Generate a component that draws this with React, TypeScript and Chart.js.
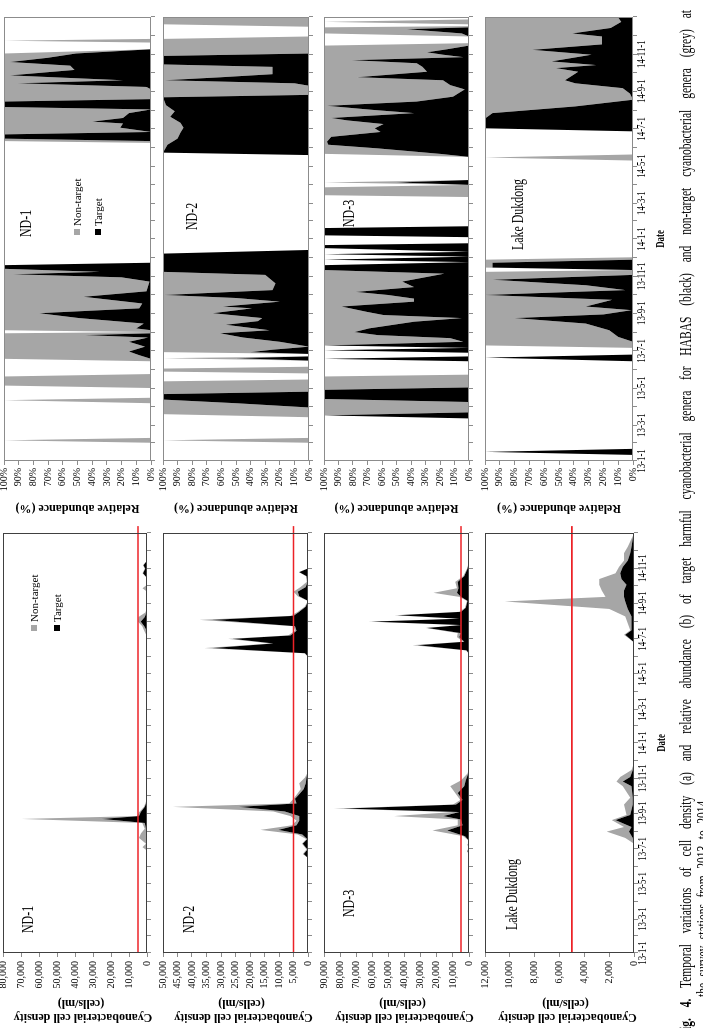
import React, { useEffect, useRef } from 'react';
import { Chart, registerables } from 'chart.js';

Chart.register(...registerables);

const SERIF = '"Liberation Serif", "Times New Roman", Times, serif';
const GREY = '#a6a6a6';
const BLACK = '#000000';
const RED = '#ec2227';

// ---------------- axis definitions ----------------
const axisStart = '2013-01-01';
const axisEnd = '2015-01-01';
const dateTickDates = ['2013-01-01', '2013-03-01', '2013-05-01', '2013-07-01', '2013-09-01', '2013-11-01', '2014-01-01', '2014-03-01', '2014-05-01', '2014-07-01', '2014-09-01', '2014-11-01'];
const dateTickLabels = ['13-1-1', '13-3-1', '13-5-1', '13-7-1', '13-9-1', '13-11-1', '14-1-1', '14-3-1', '14-5-1', '14-7-1', '14-9-1', '14-11-1'];
const alertLevel = 5000; // cells/ml, HABAS alert level
const alertLineEnd = '2015-01-13';

const stationNames = ['ND-1', 'ND-2', 'ND-3', 'Lake Dukdong'];
const densityMax = [80000, 50000, 90000, 12000];
const densityStep = [10000, 5000, 10000, 2000];
const densityTitle = ['Cyanobacterial cell density', '(cells/ml)'];
const abundanceTitle = 'Relative abundance (%)';
const legendLabels = ['Non-target', 'Target'];

// ---------------- (a) cell density, cells/ml ----------------
const nd1DensityDates = ['2013-01-01', '2013-06-28', '2013-07-04', '2013-07-10', '2013-07-20', '2013-07-28', '2013-08-05', '2013-08-15', '2013-08-22', '2013-08-27', '2013-09-03', '2013-09-12', '2013-09-20', '2013-09-30', '2014-07-05', '2014-07-15', '2014-07-23', '2014-07-31', '2014-08-08', '2014-08-16', '2014-08-26', '2014-09-21', '2014-09-27', '2014-10-03', '2014-10-15', '2014-10-23', '2014-10-31', '2014-11-06', '2014-11-14', '2014-12-31'];
const nd1DensityTarget = [0, 0, 100, 300, 500, 300, 600, 1200, 25000, 4500, 3500, 1200, 300, 0, 0, 200, 1500, 3500, 1200, 300, 0, 0, 0, 0, 0, 2200, 1000, 2000, 0, 0];
const nd1DensityNonTarget = [0, 0, 2400, 300, 4000, 3000, 700, 1500, 44600, 1000, 800, 500, 400, 0, 0, 1300, 1200, 1500, 3500, 500, 0, 0, 2500, 0, 0, 300, 300, 200, 0, 0];

const nd2DensityDates = ['2013-01-01', '2013-06-15', '2013-06-22', '2013-06-30', '2013-07-10', '2013-07-18', '2013-07-26', '2013-08-03', '2013-08-11', '2013-08-19', '2013-08-27', '2013-09-04', '2013-09-12', '2013-09-18', '2013-09-26', '2013-10-04', '2013-10-13', '2013-10-23', '2013-11-02', '2013-11-12', '2014-05-31', '2014-06-06', '2014-06-15', '2014-06-23', '2014-07-01', '2014-07-07', '2014-07-15', '2014-07-23', '2014-08-03', '2014-08-10', '2014-08-17', '2014-08-26', '2014-09-05', '2014-09-13', '2014-09-21', '2014-09-29', '2014-10-08', '2014-10-18', '2014-10-25', '2014-10-31', '2014-11-07', '2014-12-31'];
const nd2DensityTarget = [0, 0, 1500, 200, 1800, 300, 2000, 10200, 4000, 3000, 3000, 8000, 23800, 4000, 4500, 3000, 1500, 800, 500, 0, 0, 1000, 33000, 12000, 26000, 6000, 4000, 4500, 33000, 5000, 3000, 800, 0, 3000, 3500, 800, 200, 500, 3000, 200, 0, 0];
const nd2DensityNonTarget = [0, 0, 300, 300, 300, 300, 1500, 6200, 1500, 1000, 3000, 4000, 22800, 2500, 500, 800, 1000, 2200, 500, 0, 0, 200, 2700, 1000, 1500, 800, 500, 500, 4400, 1000, 500, 300, 0, 500, 1500, 1800, 200, 200, 200, 100, 0, 0];

const nd3DensityDates = ['2013-01-01', '2013-06-20', '2013-06-27', '2013-07-03', '2013-07-08', '2013-07-15', '2013-07-23', '2013-08-02', '2013-08-11', '2013-08-21', '2013-08-27', '2013-09-03', '2013-09-09', '2013-09-16', '2013-09-24', '2013-10-06', '2013-10-18', '2013-10-28', '2013-11-09', '2013-11-17', '2014-06-05', '2014-06-11', '2014-06-20', '2014-06-26', '2014-07-04', '2014-07-11', '2014-07-20', '2014-07-25', '2014-07-31', '2014-08-05', '2014-08-11', '2014-08-17', '2014-08-24', '2014-09-05', '2014-09-12', '2014-09-19', '2014-09-27', '2014-10-08', '2014-10-18', '2014-10-31', '2014-11-12', '2014-12-31'];
const nd3DensityTarget = [0, 0, 1000, 200, 800, 0, 2500, 13500, 4000, 5000, 16000, 6000, 78000, 8000, 4000, 7000, 3000, 2000, 500, 0, 0, 1500, 32000, 3000, 6000, 5000, 26000, 5000, 60700, 6000, 44400, 5000, 2000, 1000, 5000, 7400, 6500, 7000, 3000, 1000, 0, 0];
const nd3DensityNonTarget = [0, 0, 100, 100, 100, 0, 1000, 9200, 3000, 2000, 30600, 4000, 6000, 2000, 1500, 1500, 8700, 3000, 500, 0, 0, 300, 3000, 500, 1500, 2000, 1000, 500, 2000, 500, 2000, 1000, 500, 300, 1000, 14600, 1000, 1500, 500, 200, 0, 0];

const lakeDensityDates = ['2013-01-01', '2013-07-10', '2013-07-20', '2013-07-31', '2013-08-08', '2013-08-20', '2013-08-29', '2013-09-16', '2013-09-28', '2013-10-18', '2013-10-26', '2013-11-03', '2013-11-15', '2013-11-27', '2014-06-25', '2014-07-08', '2014-07-16', '2014-08-09', '2014-08-22', '2014-09-04', '2014-09-12', '2014-09-23', '2014-10-03', '2014-10-13', '2014-10-23', '2014-11-03', '2014-11-14', '2014-11-27', '2014-12-08', '2014-12-22', '2014-12-31'];
const lakeDensityTarget = [0, 0, 100, 400, 200, 1500, 300, 100, 100, 200, 900, 300, 100, 0, 0, 700, 200, 200, 500, 700, 800, 800, 600, 1000, 1100, 900, 500, 300, 200, 100, 0];
const lakeDensityNonTarget = [0, 0, 600, 1800, 600, 300, 300, 700, 200, 700, 500, 800, 100, 0, 0, 100, 100, 500, 1500, 9700, 1500, 1800, 2200, 1800, 400, 300, 300, 500, 300, 100, 0];

// ---------------- (b) relative abundance, % ----------------
const nd1AbundanceDates = ['2013-01-01', '2013-01-31', '2013-02-04', '2013-02-08', '2013-04-06', '2013-04-11', '2013-04-15', '2013-05-01', '2013-05-05', '2013-05-20', '2013-05-24', '2013-06-14', '2013-06-18', '2013-06-24', '2013-06-30', '2013-07-08', '2013-07-16', '2013-07-23', '2013-07-27', '2013-07-30', '2013-08-01', '2013-08-04', '2013-08-07', '2013-08-15', '2013-08-24', '2013-09-01', '2013-09-09', '2013-09-17', '2013-09-28', '2013-10-07', '2013-10-15', '2013-10-23', '2013-10-30', '2013-11-04', '2013-11-08', '2013-11-13', '2013-11-19', '2013-11-23', '2014-06-08', '2014-06-11', '2014-06-15', '2014-06-22', '2014-06-26', '2014-07-03', '2014-07-10', '2014-07-13', '2014-07-19', '2014-07-27', '2014-08-02', '2014-08-06', '2014-08-15', '2014-08-19', '2014-09-04', '2014-09-08', '2014-09-14', '2014-09-19', '2014-09-27', '2014-10-06', '2014-10-13', '2014-10-19', '2014-10-26', '2014-11-02', '2014-11-09', '2014-11-20', '2014-11-23', '2014-11-26', '2014-12-31'];
const nd1AbundanceTarget = [0, 0, 0, 0, 0, 0, 0, 0, 0, 0, 0, 0, 0, 8, 15, 4, 15, 2, 45, 0, 0, 0, 10, 5, 49, 76, 8, 6, 46, 3, 2, 1, 20, 94, 35, 100, 100, 0, 0, 0, 100, 100, 0, 21, 19, 40, 19, 15, 0, 100, 100, 0, 0, 3, 91, 19, 96, 52, 55, 96, 70, 51, 0, 0, 0, 0, 0];
const nd1AbundanceNonTarget = [0, 0, 100, 0, 0, 100, 0, 0, 100, 100, 0, 0, 100, 92, 85, 96, 85, 98, 55, 100, 0, 100, 90, 95, 51, 24, 92, 94, 54, 97, 98, 99, 80, 6, 65, 0, 0, 0, 0, 100, 0, 0, 100, 79, 81, 60, 81, 85, 100, 0, 0, 100, 100, 97, 9, 81, 4, 48, 45, 4, 30, 49, 0, 0, 100, 0, 0];

const nd2AbundanceDates = ['2013-01-01', '2013-01-31', '2013-02-04', '2013-02-08', '2013-03-14', '2013-03-19', '2013-03-30', '2013-04-06', '2013-04-12', '2013-04-21', '2013-04-25', '2013-05-12', '2013-05-15', '2013-05-25', '2013-05-28', '2013-06-02', '2013-06-05', '2013-06-15', '2013-06-19', '2013-06-22', '2013-06-26', '2013-06-29', '2013-07-03', '2013-07-08', '2013-07-16', '2013-07-23', '2013-07-30', '2013-08-04', '2013-08-13', '2013-08-19', '2013-08-24', '2013-09-01', '2013-09-09', '2013-09-12', '2013-09-20', '2013-09-26', '2013-10-01', '2013-10-09', '2013-10-20', '2013-11-03', '2013-11-08', '2013-12-08', '2013-12-14', '2014-05-19', '2014-05-23', '2014-06-05', '2014-06-15', '2014-06-25', '2014-07-03', '2014-07-11', '2014-07-21', '2014-07-30', '2014-08-09', '2014-08-22', '2014-08-26', '2014-09-10', '2014-09-14', '2014-09-19', '2014-09-24', '2014-09-29', '2014-10-11', '2014-10-15', '2014-10-29', '2014-11-02', '2014-11-26', '2014-11-30', '2014-12-16', '2014-12-20', '2014-12-31'];
const nd2AbundanceTarget = [0, 0, 0, 0, 0, 0, 0, 50, 100, 100, 0, 0, 0, 0, 0, 0, 0, 0, 50, 0, 0, 40, 25, 0, 20, 45, 61, 27, 57, 35, 32, 66, 39, 59, 20, 50, 99, 25, 23, 30, 100, 100, 0, 0, 100, 97, 90, 88, 86, 88, 95, 92, 98, 100, 0, 0, 10, 99, 60, 25, 25, 100, 100, 0, 0, 0, 0, 0, 0];
const nd2AbundanceNonTarget = [0, 0, 100, 0, 0, 100, 100, 50, 0, 0, 100, 100, 0, 0, 100, 100, 0, 0, 50, 0, 0, 60, 75, 100, 80, 55, 39, 73, 43, 65, 68, 34, 61, 41, 80, 50, 1, 75, 77, 70, 0, 0, 0, 0, 0, 3, 10, 12, 14, 12, 5, 8, 2, 0, 100, 100, 90, 1, 40, 75, 75, 0, 0, 100, 100, 0, 0, 100, 100];

const nd3AbundanceDates = ['2013-01-01', '2013-03-12', '2013-03-17', '2013-03-22', '2013-04-08', '2013-04-13', '2013-04-28', '2013-05-02', '2013-05-20', '2013-05-23', '2013-06-14', '2013-06-18', '2013-06-22', '2013-06-28', '2013-07-02', '2013-07-06', '2013-07-10', '2013-07-16', '2013-07-22', '2013-07-27', '2013-08-01', '2013-08-07', '2013-08-18', '2013-08-24', '2013-08-29', '2013-09-03', '2013-09-12', '2013-09-20', '2013-09-25', '2013-10-01', '2013-10-06', '2013-10-14', '2013-10-23', '2013-11-05', '2013-11-11', '2013-11-19', '2013-11-24', '2013-11-28', '2013-12-03', '2013-12-07', '2013-12-11', '2013-12-17', '2013-12-22', '2013-12-25', '2014-01-04', '2014-01-07', '2014-01-19', '2014-01-22', '2014-03-11', '2014-03-14', '2014-03-27', '2014-03-31', '2014-04-04', '2014-04-08', '2014-05-16', '2014-05-21', '2014-05-30', '2014-06-05', '2014-06-10', '2014-06-18', '2014-06-26', '2014-07-02', '2014-07-09', '2014-07-15', '2014-07-19', '2014-07-27', '2014-08-01', '2014-08-08', '2014-08-15', '2014-08-23', '2014-09-04', '2014-09-11', '2014-09-19', '2014-09-24', '2014-10-03', '2014-10-11', '2014-10-17', '2014-10-22', '2014-10-27', '2014-10-31', '2014-11-04', '2014-11-09', '2014-11-15', '2014-11-19', '2014-11-30', '2014-12-05', '2014-12-12', '2014-12-15', '2014-12-17', '2014-12-20', '2014-12-24', '2014-12-28', '2014-12-31'];
const nd3AbundanceTarget = [0, 0, 100, 0, 0, 100, 100, 0, 0, 0, 0, 100, 0, 0, 100, 0, 100, 4, 13, 63, 79, 69, 38, 5, 59, 70, 88, 38, 38, 56, 78, 38, 46, 17, 100, 100, 0, 100, 0, 100, 0, 100, 100, 0, 0, 100, 100, 0, 0, 0, 0, 0, 50, 0, 0, 20, 63, 97, 98, 95, 61, 65, 59, 84, 95, 38, 65, 98, 36, 11, 3, 13, 18, 77, 29, 32, 36, 81, 4, 18, 29, 15, 0, 0, 0, 5, 43, 0, 0, 0, 0, 0, 0];
const nd3AbundanceNonTarget = [0, 0, 0, 100, 100, 0, 0, 100, 100, 0, 0, 0, 0, 0, 0, 0, 0, 96, 87, 37, 21, 31, 62, 95, 41, 30, 12, 62, 62, 44, 22, 62, 54, 83, 0, 0, 0, 0, 0, 0, 0, 0, 0, 0, 0, 0, 0, 0, 0, 100, 100, 0, 50, 0, 0, 80, 37, 3, 2, 5, 39, 35, 41, 16, 5, 62, 35, 2, 64, 89, 97, 87, 82, 23, 71, 68, 64, 19, 96, 82, 71, 85, 100, 0, 0, 95, 57, 100, 0, 0, 100, 0, 0];

const lakeAbundanceDates = ['2013-01-01', '2013-01-11', '2013-01-16', '2013-01-21', '2013-06-14', '2013-06-20', '2013-06-25', '2013-07-06', '2013-07-10', '2013-07-16', '2013-07-24', '2013-08-04', '2013-08-15', '2013-08-24', '2013-08-30', '2013-09-06', '2013-09-12', '2013-09-23', '2013-10-01', '2013-10-09', '2013-10-17', '2013-10-26', '2013-11-03', '2013-11-08', '2013-11-11', '2013-11-15', '2013-11-23', '2013-11-28', '2013-12-02', '2014-05-10', '2014-05-15', '2014-05-20', '2014-06-27', '2014-07-02', '2014-07-18', '2014-07-27', '2014-08-07', '2014-08-18', '2014-08-28', '2014-09-06', '2014-09-14', '2014-09-19', '2014-10-03', '2014-10-09', '2014-10-14', '2014-10-20', '2014-10-31', '2014-11-08', '2014-11-17', '2014-11-30', '2014-12-05', '2014-12-14', '2014-12-24', '2014-12-31'];
const lakeAbundanceTarget = [0, 0, 100, 0, 0, 100, 0, 0, 0, 0, 10, 16, 32, 80, 20, 1, 32, 14, 100, 5, 32, 95, 0, 0, 0, 95, 95, 0, 0, 0, 0, 0, 0, 100, 100, 95, 39, 0, 2, 7, 39, 46, 37, 52, 25, 55, 28, 68, 21, 21, 41, 15, 8, 10];
const lakeAbundanceNonTarget = [0, 0, 0, 0, 0, 0, 0, 0, 100, 100, 90, 84, 68, 20, 80, 99, 68, 86, 0, 95, 68, 5, 100, 100, 0, 5, 5, 100, 0, 0, 100, 0, 0, 0, 0, 5, 61, 100, 98, 93, 61, 54, 63, 48, 75, 45, 72, 32, 79, 79, 59, 85, 92, 90];

const densitySeries = [
  [nd1DensityDates, nd1DensityTarget, nd1DensityNonTarget],
  [nd2DensityDates, nd2DensityTarget, nd2DensityNonTarget],
  [nd3DensityDates, nd3DensityTarget, nd3DensityNonTarget],
  [lakeDensityDates, lakeDensityTarget, lakeDensityNonTarget],
] as const;
const abundanceSeries = [
  [nd1AbundanceDates, nd1AbundanceTarget, nd1AbundanceNonTarget],
  [nd2AbundanceDates, nd2AbundanceTarget, nd2AbundanceNonTarget],
  [nd3AbundanceDates, nd3AbundanceTarget, nd3AbundanceNonTarget],
  [lakeAbundanceDates, lakeAbundanceTarget, lakeAbundanceNonTarget],
] as const;

// ---------------- helpers ----------------
const START_MS = Date.parse(axisStart + 'T00:00:00Z');
function dayOf(iso: string): number {
  return Math.round((Date.parse(iso + 'T00:00:00Z') - START_MS) / 86400000);
}
const monthTicks: number[] = [];
for (let y = 2013; y <= 2014; y++) {
  for (let m = 1; m <= 12; m++) monthTicks.push(dayOf(`${y}-${String(m).padStart(2, '0')}-01`));
}
monthTicks.push(dayOf(axisEnd));

function points(dates: readonly string[], values: readonly number[]) {
  return dates.map((d, i) => ({ x: dayOf(d), y: values[i] }));
}

// Layout of the landscape figure (it is turned a quarter turn for the page).
const FIG_W = 1028;
const FIG_H = 703;
const DENSITY_ROWS: [number, number][] = [[3, 149], [163, 310], [324, 471], [485, 634]];
const ABUNDANCE_ROWS: [number, number][] = [[4, 152], [163, 310], [324, 470], [485, 633]];

type Kind = 'density' | 'abundance';

function Panel({ kind, row }: { kind: Kind; row: number }) {
  const ref = useRef<HTMLCanvasElement>(null);
  const isDensity = kind === 'density';
  const last = row === 3;
  const [vTop, vBot] = (isDensity ? DENSITY_ROWS : ABUNDANCE_ROWS)[row];
  const left = isDensity ? 0 : 500;
  const width = isDensity ? 512 : 528;
  const axisW = isDensity ? 75 : 67;
  const plotW = isDensity ? 420 : 444;
  const padTop = 10;
  const bottomH = last ? 48 : 8;
  const top = vTop - padTop;
  const height = vBot - vTop + padTop + bottomH;

  useEffect(() => {
    const canvas = ref.current;
    if (!canvas) return;
    const [dates, target, nonTarget] = (isDensity ? densitySeries : abundanceSeries)[row];
    const datasets: any[] = [
      {
        label: 'Target', data: points(dates, target), stack: 'cells', fill: 'origin',
        backgroundColor: BLACK, borderColor: 'rgba(0,0,0,0)', borderWidth: 0, pointRadius: 0, tension: 0,
      },
      {
        label: 'Non-target', data: points(dates, nonTarget), stack: 'cells', fill: '-1',
        backgroundColor: GREY, borderColor: 'rgba(0,0,0,0)', borderWidth: 0, pointRadius: 0, tension: 0,
      },
    ];
    if (isDensity) {
      datasets.push({
        label: 'Alert level', data: [{ x: 0, y: alertLevel }, { x: dayOf(alertLineEnd), y: alertLevel }],
        stack: 'alert', fill: false, borderColor: RED, borderWidth: 1.6, pointRadius: 0, clip: false, order: -1,
      });
    }

    const framePlugin = {
      id: 'panelFrame',
      afterDraw(chart: any) {
        const { ctx, chartArea: a } = chart;
        ctx.save();
        ctx.strokeStyle = isDensity ? '#404040' : '#8c8c8c';
        ctx.lineWidth = 1;
        ctx.strokeRect(Math.round(a.left) + 0.5, Math.round(a.top) + 0.5, Math.round(a.right - a.left) - 1, Math.round(a.bottom - a.top) - 1);
        ctx.fillStyle = '#000';
        ctx.textAlign = 'center';
        ctx.textBaseline = 'middle';
        if (isDensity) {
          // two-line value-axis title, set slightly below the axis centre
          ctx.save();
          ctx.font = `bold 12px ${SERIF}`;
          ctx.translate(11, (a.top + a.bottom) / 2 + 8);
          ctx.rotate(-Math.PI / 2);
          densityTitle.forEach((line, i) => ctx.fillText(line, i === 0 ? 0 : 2, i * 14.4));
          ctx.restore();
        }
        if (last) {
          const xs = chart.scales.x;
          ctx.font = `13px ${SERIF}`;
          dateTickDates.forEach((d, i) => {
            ctx.save();
            ctx.translate(xs.getPixelForValue(dayOf(d)), a.bottom + 8.5);
            ctx.scale(0.68, 1);
            ctx.fillText(dateTickLabels[i], 0, 0);
            ctx.restore();
          });
          ctx.font = `bold 13px ${SERIF}`;
          ctx.translate((a.left + a.right) / 2, a.bottom + 28);
          ctx.scale(0.68, 1);
          ctx.fillText('Date', 0, 0);
        }
        ctx.restore();
      },
    };

    const chart = new Chart(canvas, {
      type: 'line',
      data: { datasets },
      options: {
        animation: false,
        responsive: false,
        maintainAspectRatio: false,
        devicePixelRatio: 1,
        layout: { padding: { top: padTop, right: width - axisW - plotW, bottom: 0, left: 0 } },
        plugins: { legend: { display: false }, tooltip: { enabled: false } },
        elements: { line: { tension: 0 } },
        scales: {
          x: {
            type: 'linear', min: 0, max: dayOf(axisEnd),
            afterBuildTicks: (s: any) => { s.ticks = monthTicks.map((value) => ({ value })); },
            ticks: { display: false, autoSkip: false },
            grid: { drawOnChartArea: false, drawTicks: true, tickLength: 4, color: '#8c8c8c' },
            border: { display: false },
            afterFit: (s: any) => { s.height = bottomH; },
          },
          y: {
            stacked: true, min: 0, max: isDensity ? densityMax[row] : 100,
            ticks: {
              stepSize: isDensity ? densityStep[row] : 10, autoSkip: false, color: '#000', padding: isDensity ? 4 : 3,
              font: { family: SERIF, size: 10 },
              callback: (v: any) => (isDensity ? Number(v).toLocaleString('en-US') : `${v}%`),
            },
            grid: { drawOnChartArea: false, drawTicks: true, tickLength: 4, color: '#8c8c8c' },
            border: { display: false },
            title: {
              display: !isDensity,
              text: abundanceTitle,
              color: '#000',
              font: { family: SERIF, size: 12, weight: 'bold' },
              padding: { top: 13, bottom: 0 },
            },
            afterFit: (s: any) => { s.width = axisW; },
          },
        },
      } as any,
      plugins: [framePlugin],
    });
    return () => chart.destroy();
  }, []);

  return (
    <canvas
      ref={ref}
      width={width}
      height={height}
      style={{ position: 'absolute', left, top, width, height }}
    />
  );
}

const densityLabelPos: [number, number][] = [[95, 27.5], [95, 189], [111, 349], [98, 512]];
const abundanceLabelPos: [number, number][] = [[791, 25.5], [798, 192], [801, 349], [778, 518]];

function StationLabel({ text, u, v }: { text: string; u: number; v: number }) {
  return (
    <div style={{
      position: 'absolute', left: u, top: v - 10, font: `17px ${SERIF}`, lineHeight: '20px',
      whiteSpace: 'nowrap', transform: 'scaleX(0.7)', transformOrigin: '0 50%', color: '#000',
    }}>{text}</div>
  );
}

function Legend({ u, v1, v2 }: { u: number; v1: number; v2: number }) {
  const colors = [GREY, BLACK];
  return (
    <>
      {legendLabels.map((label, i) => (
        <div key={label} style={{
          position: 'absolute', left: u - 3, top: (i === 0 ? v1 : v2) - 6, height: 12,
          display: 'flex', alignItems: 'center', font: `11px ${SERIF}`, lineHeight: '12px', whiteSpace: 'nowrap',
        }}>
          <span style={{ display: 'inline-block', width: 6, height: 6, background: colors[i], marginRight: 3 }} />
          <span>{label}</span>
        </div>
      ))}
    </>
  );
}

export default function App() {
  const rows = [0, 1, 2, 3];
  return (
    <div style={{ position: 'fixed', left: 0, top: 0, width: FIG_H, height: FIG_W, overflow: 'hidden', background: '#fff' }}>
      <div style={{
        position: 'absolute', left: 0, top: 0, width: FIG_W, height: FIG_H,
        transformOrigin: '0 0', transform: `translateY(${FIG_W}px) rotate(-90deg)`,
      }}>
        {rows.map((r) => <Panel key={`d${r}`} kind="density" row={r} />)}
        {rows.map((r) => <Panel key={`a${r}`} kind="abundance" row={r} />)}
        {rows.map((r) => <StationLabel key={`ld${r}`} text={stationNames[r]} u={densityLabelPos[r][0]} v={densityLabelPos[r][1]} />)}
        {rows.map((r) => <StationLabel key={`la${r}`} text={stationNames[r]} u={abundanceLabelPos[r][0]} v={abundanceLabelPos[r][1]} />)}
        <Legend u={400} v1={34} v2={57} />
        <Legend u={796} v1={77} v2={98} />
        <div style={{
          position: 'absolute', left: -9, top: 676.6, width: 1027 / 0.72, font: `16px ${SERIF}`, lineHeight: '18px',
          textAlign: 'justify', textAlignLast: 'justify', transform: 'scaleX(0.72)', transformOrigin: '0 0', color: '#000',
        }}>
          <b>Fig. 4.</b> Temporal variations of cell density (a) and relative abundance (b) of target harmful cyanobacterial genera for HABAS (black) and non-target cyanobacterial genera (grey) at
        </div>
        <div style={{
          position: 'absolute', left: 31, top: 693.6, font: `16px ${SERIF}`, lineHeight: '18px', wordSpacing: 5,
          whiteSpace: 'nowrap', transform: 'scaleX(0.72)', transformOrigin: '0 0', color: '#000',
        }}>
          the survey stations from 2013 to 2014.
        </div>
      </div>
    </div>
  );
}
